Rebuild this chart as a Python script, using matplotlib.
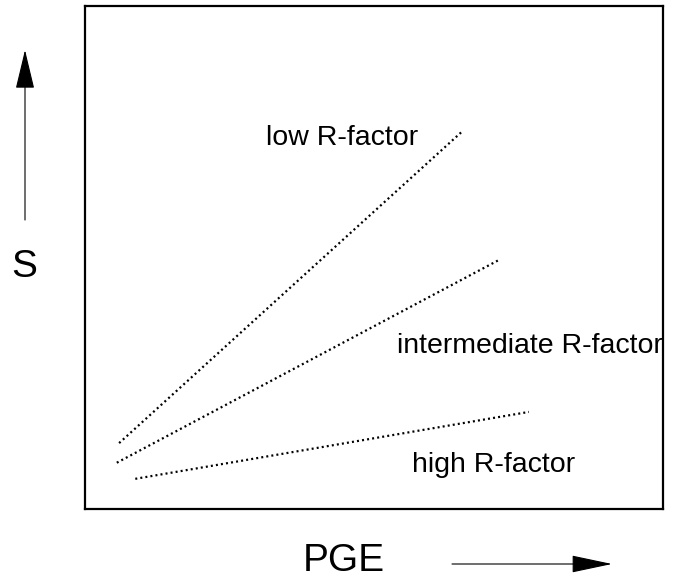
import matplotlib
matplotlib.use("Agg")
import matplotlib.pyplot as plt

plt.rcParams['font.family'] = ['Liberation Sans', 'DejaVu Sans']

# ---- data (arbitrary units, schematic) ----
series = ["low R-factor", "intermediate R-factor", "high R-factor"]
x_start = [5.9, 5.5, 8.7]
y_start = [13.1, 9.2, 6.0]
x_end = [65.2, 71.6, 76.8]
y_end = [75.0, 49.5, 19.3]
x_label = "PGE"
y_label = "S"

# ---- layout ----
W, H = 676, 587
fig = plt.figure(figsize=(W / 100, H / 100), dpi=100)
ax = fig.add_axes([85 / W, (H - 509) / H, 578 / W, 503 / H])
ax.set_xlim(0, 100)
ax.set_ylim(0, 100)
ax.set_xticks([])
ax.set_yticks([])
for s in ax.spines.values():
    s.set_linewidth(1.6)
    s.set_color("black")

for xs, ys, xe, ye in zip(x_start, y_start, x_end, y_end):
    ax.plot([xs, xe], [ys, ye], color="black", lw=1.6,
            linestyle=(0, (0.9, 1.4)))

label_pos = [(31.3, 72.4), (54.0, 31.0), (56.6, 7.4)]
for name, (lx, ly) in zip(series, label_pos):
    ax.text(lx, ly, name, fontsize=20.5, ha="left", va="baseline",
            color="black", clip_on=True)

# axis labels
fig.text(24 / W, 1 - 267 / H, y_label, fontsize=28, ha="center", va="center")
fig.text(344 / W, 1 - 561 / H, x_label, fontsize=28, ha="center", va="center")

# arrows (figure pixels, origin bottom-left)
ax.annotate("", xy=(25, H - 50), xytext=(25, H - 220),
            xycoords="figure pixels", textcoords="figure pixels",
            arrowprops=dict(arrowstyle="-|>,head_length=25,head_width=6",
                            mutation_scale=1, lw=0.8, color="black",
                            shrinkA=0, shrinkB=0))
ax.annotate("", xy=(612, H - 564), xytext=(452, H - 564),
            xycoords="figure pixels", textcoords="figure pixels",
            arrowprops=dict(arrowstyle="-|>,head_length=26,head_width=5.5",
                            mutation_scale=1, lw=0.8, color="black",
                            shrinkA=0, shrinkB=0))

fig.savefig("out.png", dpi=100)
